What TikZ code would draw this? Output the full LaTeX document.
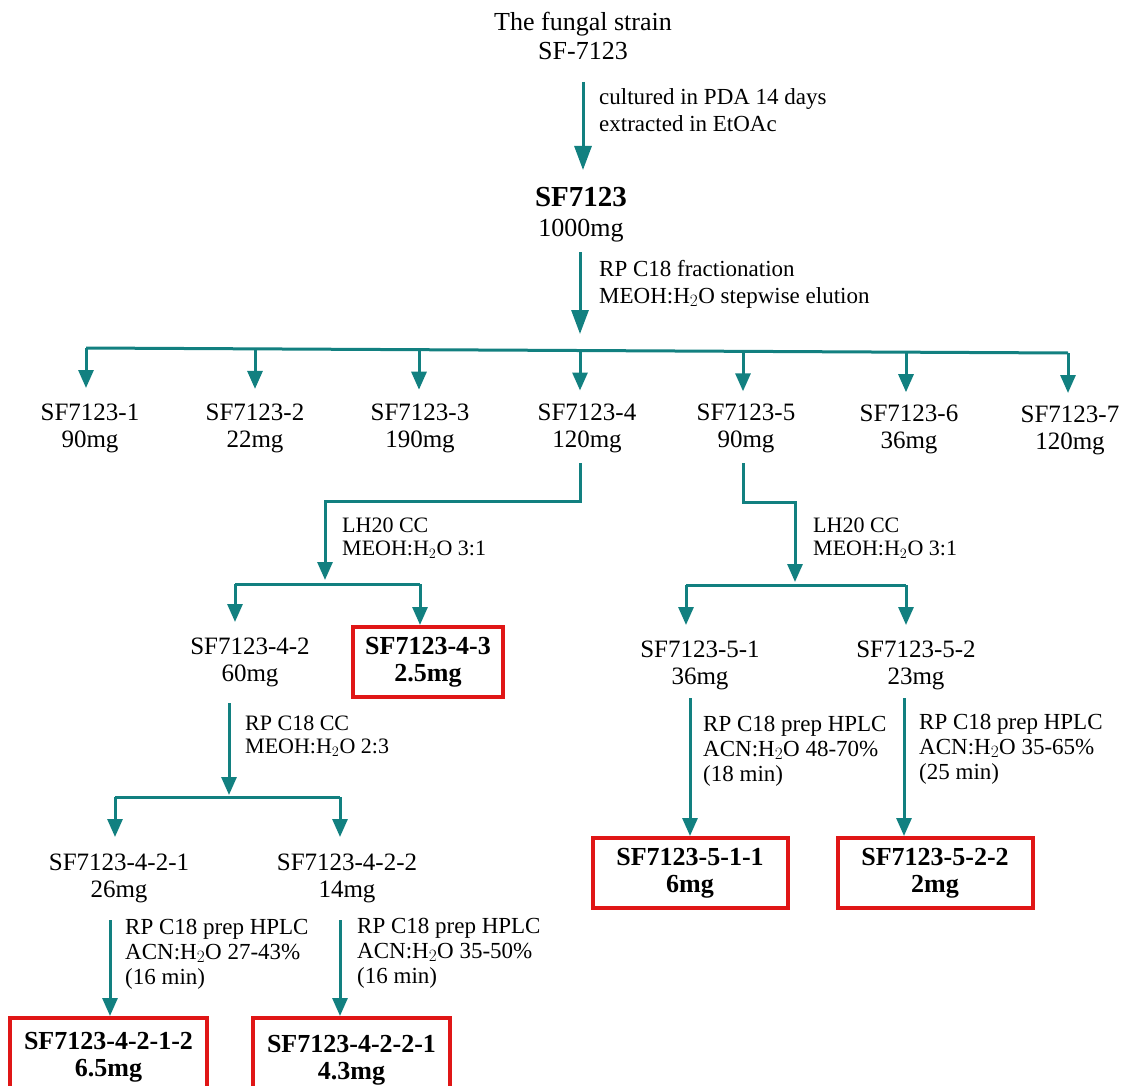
\documentclass[tikz,border=0pt]{standalone}
\usepackage{fontspec}
\setmainfont{Liberation Serif}
\usetikzlibrary{arrows.meta}
\definecolor{flow}{RGB}{18,128,128}
\definecolor{hit}{RGB}{224,22,22}
\tikzset{
  flowline/.style={draw=flow, line width=3pt},
  arr/.style={flowline, -{Triangle[length=18pt,width=15pt]}},
  bigarr/.style={flowline, -{Triangle[length=24pt,width=17pt]}},
  txt/.style={align=center, inner sep=0pt, font=\fontsize{25}{27}\selectfont},
  toptxt/.style={align=center, inner sep=0pt, font=\fontsize{26}{29}\selectfont},
  note/.style={align=left, anchor=west, inner sep=0pt, font=\fontsize{23}{27}\selectfont},
  smallnote/.style={align=left, anchor=west, inner sep=0pt, font=\fontsize{22}{23.5}\selectfont},
  hplcnote/.style={align=left, anchor=west, inner sep=0pt, font=\fontsize{23}{25}\selectfont},
  hitbox/.style={draw=hit, line width=4pt, inner sep=0pt, align=center,
                 font=\bfseries\fontsize{26}{27}\selectfont}
}
\begin{document}
\begin{tikzpicture}[x=1pt, y=-1pt]
\useasboundingbox (0,0) rectangle (1132,1086);

% ---- strain and crude extract ----
\node[toptxt] (strain) at (583,36) {The fungal strain\\SF-7123};
\coordinate (a1s) at (583,82);  \coordinate (a1e) at (583,170);
\draw[bigarr] (a1s) -- (a1e);
\node[note] (cult) at (599,110) {cultured in PDA 14 days\\extracted in EtOAc};

\node[inner sep=0pt, font=\bfseries\fontsize{29}{31}\selectfont] (crude) at (581,197) {SF7123};
\node[inner sep=0pt, font=\fontsize{26}{28}\selectfont] (crudemg) at (581,231) {1000mg};
\coordinate (a2s) at (580,252); \coordinate (a2e) at (580,334);
\draw[bigarr] (a2s) -- (a2e);
\node[note] (frac) at (599,284) {RP C18 fractionation\\MEOH:H$_2$O stepwise elution};

% ---- main fractionation bus ----
\coordinate (b1) at (86,348);    \coordinate (b7) at (1068,353);
\coordinate (b2) at (255,348.9); \coordinate (b3) at (419,349.7);
\coordinate (b4) at (580,350.5); \coordinate (b5) at (743,351.3);
\coordinate (b6) at (906,352.2);
\draw[flowline] (b1) -- (b7);
\foreach \i in {1,...,7} \draw[arr] (b\i) -- ++(0,40);

\node[txt] (f1) at (90,428)   {SF7123-1\\90mg};
\node[txt] (f2) at (255,428)  {SF7123-2\\22mg};
\node[txt] (f3) at (420,428)  {SF7123-3\\190mg};
\node[txt] (f4) at (587,428)  {SF7123-4\\120mg};
\node[txt] (f5) at (746,428)  {SF7123-5\\90mg};
\node[txt] (f6) at (909,429)  {SF7123-6\\36mg};
\node[txt] (f7) at (1070,430) {SF7123-7\\120mg};

% ---- fraction 4 ----
\coordinate (c4a) at (580,463); \coordinate (c4b) at (580,501);
\coordinate (c4c) at (325,501); \coordinate (c4d) at (325,580);
\draw[arr] (c4a) -- (c4b) -- (c4c) -- (c4d);
\node[smallnote] (lh4) at (342,538) {LH20 CC\\MEOH:H$_2$O 3:1};
\coordinate (s4l) at (235,584); \coordinate (s4r) at (420,584);
\draw[flowline] (s4l) -- (s4r);
\draw[arr] (s4l) -- ++(0,38);
\draw[arr] (s4r) -- ++(0,41);

\node[txt] (f42) at (250,662) {SF7123-4-2\\60mg};
\node[hitbox, minimum width=150pt, minimum height=70pt] (f43) at (428,662) {SF7123-4-3\\2.5mg};

\coordinate (c42a) at (229,703); \coordinate (c42b) at (229,795);
\draw[arr] (c42a) -- (c42b);
\node[smallnote] (rp42) at (245,736) {RP C18 CC\\MEOH:H$_2$O 2:3};
\coordinate (s42l) at (115,797); \coordinate (s42r) at (340,797);
\draw[flowline] (s42l) -- (s42r);
\draw[arr] (s42l) -- ++(0,40);
\draw[arr] (s42r) -- ++(0,40);

\node[txt] (f421) at (119,878) {SF7123-4-2-1\\26mg};
\node[txt] (f422) at (347,878) {SF7123-4-2-2\\14mg};

\coordinate (c421a) at (110,920); \coordinate (c421b) at (110,1016);
\draw[arr] (c421a) -- (c421b);
\node[hplcnote] (hp421) at (125,954) {RP C18 prep HPLC\\ACN:H$_2$O 27-43\%\\(16 min)};
\coordinate (c422a) at (340,920); \coordinate (c422b) at (340,1016);
\draw[arr] (c422a) -- (c422b);
\node[hplcnote] (hp422) at (357,953) {RP C18 prep HPLC\\ACN:H$_2$O 35-50\%\\(16 min)};

\node[hitbox, minimum width=197pt, minimum height=78pt] (f4212) at (108.5,1057) {SF7123-4-2-1-2\\6.5mg};
\node[hitbox, minimum width=197pt, minimum height=84pt] (f4221) at (351.5,1060) {SF7123-4-2-2-1\\4.3mg};

% ---- fraction 5 ----
\coordinate (c5a) at (743,463); \coordinate (c5b) at (743,502);
\coordinate (c5c) at (795,502); \coordinate (c5d) at (795,582);
\draw[arr] (c5a) -- (c5b) -- (c5c) -- (c5d);
\node[smallnote] (lh5) at (813,538) {LH20 CC\\MEOH:H$_2$O 3:1};
\coordinate (s5l) at (686,585); \coordinate (s5r) at (906,585);
\draw[flowline] (s5l) -- (s5r);
\draw[arr] (s5l) -- ++(0,40);
\draw[arr] (s5r) -- ++(0,40);

\node[txt] (f51) at (700,665) {SF7123-5-1\\36mg};
\node[txt] (f52) at (916,665) {SF7123-5-2\\23mg};

\coordinate (c51a) at (690,698); \coordinate (c51b) at (690,836);
\draw[arr] (c51a) -- (c51b);
\node[hplcnote] (hp51) at (703,751) {RP C18 prep HPLC\\ACN:H$_2$O 48-70\%\\(18 min)};
\coordinate (c52a) at (904,698); \coordinate (c52b) at (904,836);
\draw[arr] (c52a) -- (c52b);
\node[hplcnote] (hp52) at (919,749) {RP C18 prep HPLC\\ACN:H$_2$O 35-65\%\\(25 min)};

\node[hitbox, minimum width=195pt, minimum height=70pt] (f511) at (690,873) {SF7123-5-1-1\\6mg};
\node[hitbox, minimum width=195pt, minimum height=70pt] (f522) at (935,873) {SF7123-5-2-2\\2mg};
\end{tikzpicture}
\end{document}
